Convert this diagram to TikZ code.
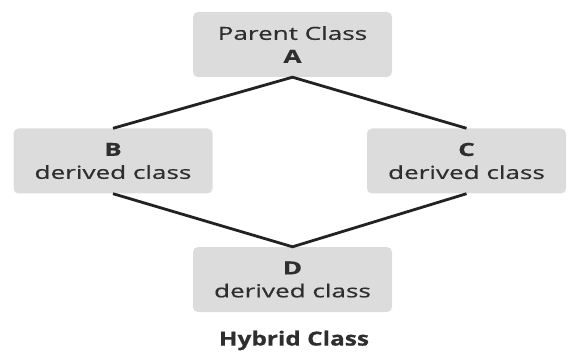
\documentclass[tikz,border=0pt]{standalone}
\usepackage{fontspec}
\setmainfont{Open Sans}[FakeStretch=1.45, FakeBold=0.6]
\newfontfamily\hybridfont{Open Sans Bold}[FakeStretch=1.25, FakeBold=0.5]
\definecolor{boxfill}{HTML}{DCDCDC}
\definecolor{txt}{HTML}{2E2E2E}
\definecolor{ln}{HTML}{222222}
\begin{document}
\begin{tikzpicture}[x=1pt,y=1pt,
  classbox/.style={fill=boxfill, rounded corners=5pt, minimum width=199pt, minimum height=65pt,
    align=center, text=txt, font=\fontsize{18}{23}\selectfont, inner sep=0pt},
  link/.style={draw=ln, line width=2.8pt}]
\useasboundingbox (0,0) rectangle (569,356);
\node[classbox] (A) at (292.5,311.5) {Parent Class\\\textbf{A}};
\node[classbox] (B) at (113,195) {\textbf{B}\\derived class};
\node[classbox] (C) at (466.5,195) {\textbf{C}\\derived class};
\node[classbox] (D) at (292.5,76.5) {\textbf{D}\\derived class};
\node[text=txt, font=\fontsize{19.5}{23}\hybridfont] (H) at (294,15.5) {Hybrid Class};
\draw[link] (B.north) -- (A.south) -- (C.north);
\draw[link] (B.south) -- (D.north) -- (C.south);
\end{tikzpicture}
\end{document}
